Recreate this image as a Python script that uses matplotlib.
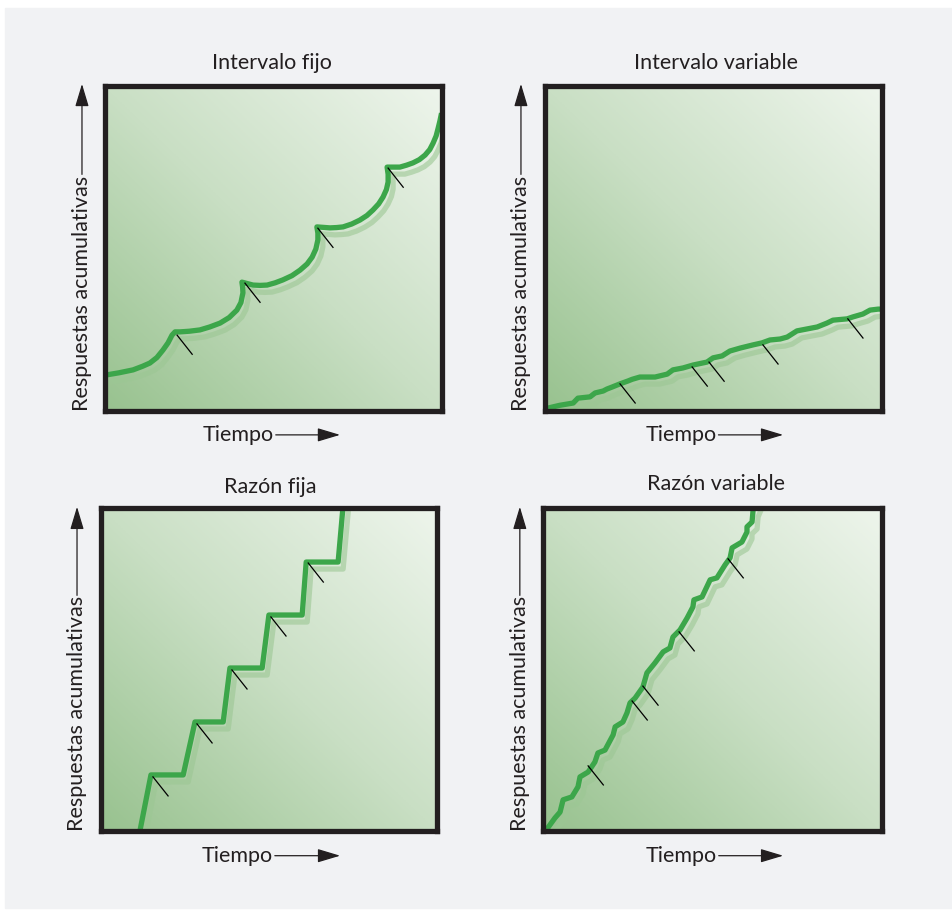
import numpy as np
import matplotlib.pyplot as plt
import matplotlib.transforms as mtransforms
from matplotlib.colors import LinearSegmentedColormap
from matplotlib.patches import Rectangle

plt.rcParams['font.family'] = ['Lato', 'DejaVu Sans']

titles = ['Intervalo fijo', 'Intervalo variable', 'Razón fija', 'Razón variable']
ylabel = 'Respuestas acumulativas'
xlabel = 'Tiempo'

# "intervalo fijo" - scalloped curve (tiempo, respuestas), scale 0-100
fi_t = [0.0, 4.0, 8.2, 11.0, 13.2, 15.3, 17.1, 18.6, 19.8, 20.7,
        22.2, 25.0, 28.1, 31.0, 34.1, 36.8, 39.1, 40.3, 40.9, 40.8, 40.6,
        43.9, 46.0, 48.1, 50.5, 52.8, 55.5, 57.9, 60.0, 61.5, 62.6, 63.2, 63.2, 62.9,
        66.8, 68.8, 70.7, 73.3, 75.7, 77.8, 79.6, 81.3, 82.6, 83.6, 84.1, 84.1, 83.8,
        87.6, 89.6, 91.5, 93.4, 95.1, 96.5, 97.5, 98.4, 99.0, 99.5, 100.0]
fi_r = [10.9, 11.6, 12.5, 13.6, 14.6, 16.3, 18.6, 20.8, 23.2, 24.2,
        24.2, 24.4, 24.8, 25.7, 26.9, 28.6, 30.9, 33.2, 36.2, 38.0, 39.5,
        38.6, 38.5, 38.6, 39.3, 40.2, 41.5, 43.2, 45.1, 47.2, 49.7, 52.5, 54.6, 56.5,
        56.2, 56.3, 56.5, 57.4, 58.6, 60.0, 61.7, 63.6, 65.7, 68.0, 70.3, 72.7, 74.9,
        74.9, 75.5, 76.2, 77.2, 78.6, 80.3, 82.3, 84.5, 86.9, 89.0, 91.5]
fi_mark_t = [21.3, 41.5, 63.2, 84.1]
fi_mark_r = [23.2, 39.2, 56.1, 74.6]

# "intervalo variable"
vi_t = [0.0, 4.5, 8.5, 9.9, 13.5, 15.0, 17.4, 18.5, 20.0, 22.4, 24.8, 26.0, 28.3,
        32.8, 36.4, 38.1, 41.1, 44.1, 48.2, 50.0, 52.7, 55.0, 58.0, 61.9, 64.5,
        66.9, 69.9, 72.0, 74.9, 77.9, 80.9, 83.8, 85.6, 89.8, 91.5, 94.5, 96.6,
        99.0, 100.0]
vi_r = [0.5, 1.6, 2.3, 3.8, 4.2, 5.4, 6.0, 6.6, 7.2, 8.2, 9.1, 9.6, 10.3,
        10.3, 11.2, 12.5, 13.1, 14.0, 14.9, 16.2, 16.8, 18.3, 19.2, 20.2, 20.8,
        21.7, 22.0, 22.6, 24.5, 25.1, 25.7, 26.9, 27.8, 28.2, 28.8, 29.7, 30.9,
        31.2, 31.2]
vi_mark_t = [22.4, 43.8, 48.8, 64.8, 90.0]
vi_mark_r = [8.2, 13.4, 14.9, 20.2, 28.2]

# "razón fija" - staircase
rf_t = [11.5, 15.0, 24.6, 28.1, 36.5, 38.5, 48.1, 50.1, 60.0, 61.2, 70.7, 72.2]
rf_r = [-1.0, 17.5, 17.5, 33.9, 33.9, 50.6, 50.6, 67.0, 67.0, 83.4, 83.4, 101.0]
rf_mark_t = [15.6, 28.7, 39.1, 50.7, 61.8]
rf_mark_r = [16.9, 33.3, 50.0, 66.4, 83.1]

# "razón variable"
rv_t = [0.5, 3.4, 4.9, 5.8, 8.4, 10.2, 10.8, 13.2, 15.2, 16.1, 18.2, 20.6, 21.2,
        23.5, 24.7, 25.6, 27.1, 29.4, 30.6, 33.0, 35.4, 37.4, 38.3, 40.4, 42.5,
        44.2, 44.5, 46.9, 49.3, 51.3, 53.7, 55.2, 55.8, 58.7, 60.2, 60.2, 61.7,
        62.0, 62.6]
rv_r = [0.0, 4.2, 6.0, 9.8, 10.7, 13.8, 16.9, 18.4, 21.5, 24.3, 25.2, 29.9, 32.4,
        33.9, 36.7, 39.8, 41.3, 44.7, 49.1, 52.2, 55.6, 56.8, 60.2, 62.4, 66.1,
        69.5, 71.7, 72.6, 77.9, 78.5, 82.5, 84.7, 87.8, 89.6, 92.7, 94.3, 95.8,
        99.5, 101.0]
rv_mark_t = [13.2, 26.2, 29.4, 40.1, 54.6]
rv_mark_r = [20.3, 40.4, 45.0, 61.8, 84.4]

curves = [(fi_t, fi_r, fi_mark_t, fi_mark_r),
          (vi_t, vi_r, vi_mark_t, vi_mark_r),
          (rf_t, rf_r, rf_mark_t, rf_mark_r),
          (rv_t, rv_r, rv_mark_t, rv_mark_r)]

# axes rectangles (figure fraction) and label placement
rects = [[0.1107, 0.5489, 0.3526, 0.3571],
         [0.5714, 0.5489, 0.3536, 0.3571],
         [0.1055, 0.0863, 0.3526, 0.3550],
         [0.5703, 0.0863, 0.3547, 0.3550]]
title_x = [0.496, 0.509, 0.504, 0.51]
title_y = [1.069, 1.069, 1.067, 1.076]
xlab_x = [0.29, 0.30, 0.302, 0.303]
xtip_x = [0.698, 0.708, 0.713, 0.709]

dark = '#231f20'
green = '#3ca64a'
cmap = LinearSegmentedColormap.from_list('bg', ['#98c28f', '#c9dfc4', '#eef5ec'])

fig = plt.figure(figsize=(9.53, 9.10), dpi=100)
fig.patch.set_facecolor('white')
fig.patches.append(Rectangle((5 / 953, 2 / 910), 947 / 953, 900 / 910,
                             transform=fig.transFigure, color='#f1f2f4', zorder=-5))

gx, gy = np.meshgrid(np.linspace(0, 1, 200), np.linspace(0, 1, 200))
grad = (gx + gy) / 2

axes = []
for i in range(4):
    ax = fig.add_axes(rects[i])
    ax.set_xlim(0, 100)
    ax.set_ylim(0, 100)
    ax.imshow(grad, extent=(0, 100, 0, 100), origin='lower', cmap=cmap,
              aspect='auto', zorder=0)
    t, r, mt, mr = curves[i]
    shadow = mtransforms.offset_copy(ax.transData, fig=fig, x=5, y=-7, units='dots')
    ax.plot(t, r, color='#9cc794', alpha=0.6, lw=3.8, transform=shadow,
            solid_joinstyle='round', zorder=2)
    ax.plot(t, r, color=green, lw=3.8, solid_joinstyle='round',
            solid_capstyle='butt', zorder=3)
    for a, b in zip(mt, mr):
        ax.plot([a, a + 4.5], [b, b - 5.9], color='black', lw=0.9, zorder=4)
    for s in ax.spines.values():
        s.set_linewidth(3.8)
        s.set_color(dark)
        s.set_zorder(5)
    ax.set_xticks([])
    ax.set_yticks([])
    ax.text(title_x[i], title_y[i], titles[i], transform=ax.transAxes,
            ha='center', va='center', fontsize=15.5, color=dark)
    yl = ax.text(-0.07, 0.0, ylabel, transform=ax.transAxes, rotation=90,
                 ha='center', va='bottom', fontsize=15.5, color=dark)
    xl = ax.text(xlab_x[i], -0.075, xlabel, transform=ax.transAxes,
                 ha='left', va='center', fontsize=15.5, color=dark)
    axes.append((ax, yl, xl, i))

fig.canvas.draw()
renderer = fig.canvas.get_renderer()
for ax, yl, xl, i in axes:
    inv = ax.transAxes.inverted()
    yb = inv.transform(yl.get_window_extent(renderer)).T
    xb = inv.transform(xl.get_window_extent(renderer)).T
    ax.annotate('', xy=(-0.07, 1.005), xytext=(-0.07, yb[1].max() + 0.003),
                xycoords='axes fraction', textcoords='axes fraction',
                arrowprops=dict(arrowstyle='-|>,head_length=1.0,head_width=0.3',
                                mutation_scale=14, lw=0.9, color=dark,
                                shrinkA=0, shrinkB=0))
    ax.annotate('', xy=(xtip_x[i], -0.075), xytext=(xb[0].max() + 0.005, -0.075),
                xycoords='axes fraction', textcoords='axes fraction',
                arrowprops=dict(arrowstyle='-|>,head_length=1.0,head_width=0.3',
                                mutation_scale=14, lw=0.9, color=dark,
                                shrinkA=0, shrinkB=0))

fig.savefig('out.png', dpi=100, facecolor=fig.get_facecolor())
